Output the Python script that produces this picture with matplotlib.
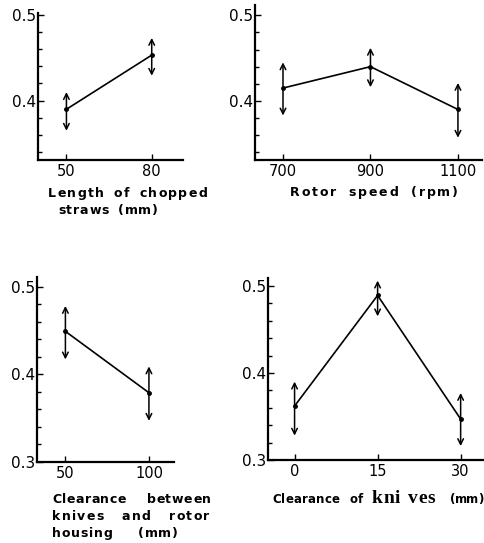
import matplotlib
matplotlib.use("Agg")
import matplotlib.pyplot as plt
from matplotlib.font_manager import FontProperties

W, H = 485, 543

# panel data: x levels, means, upper and lower arrow ends
straw_x = [50, 80]
straw_mean = [0.390, 0.453]
straw_hi = [0.410, 0.473]
straw_lo = [0.365, 0.429]

speed_x = [700, 900, 1100]
speed_mean = [0.415, 0.440, 0.390]
speed_hi = [0.445, 0.462, 0.421]
speed_lo = [0.383, 0.416, 0.357]

housing_x = [50, 100]
housing_mean = [0.449, 0.379]
housing_hi = [0.478, 0.409]
housing_lo = [0.417, 0.347]

knife_x = [0, 15, 30]
knife_mean = [0.362, 0.489, 0.347]
knife_hi = [0.390, 0.506, 0.377]
knife_lo = [0.328, 0.465, 0.316]

tick_font = ['DejaVu Sans']
lab_prop = FontProperties(family='DejaVu Sans', weight='bold', size=9)
small_prop = FontProperties(family='DejaVu Sans', weight='bold', size=8.5)
serif_prop = FontProperties(family=['Liberation Serif', 'DejaVu Serif'], weight='bold', size=14)


def px_axes(fig, left, top, right, bottom):
    # axes placed by pixel box of the reference picture
    return fig.add_axes([left / W, 1 - bottom / H, (right - left) / W, (bottom - top) / H])


def draw_panel(ax, xs, mean, hi, lo, xlim, ylim, xticks, xlabels, yticks, ylabels, yminor):
    ax.plot(xs, mean, color='black', lw=1.2, marker='o', ms=2.5)
    for x, m, h, l in zip(xs, mean, hi, lo):
        ax.annotate('', xy=(x, h), xytext=(x, l),
                    arrowprops=dict(arrowstyle='<->', color='black', lw=1.1,
                                    mutation_scale=10, shrinkA=0, shrinkB=0))
    ax.set_xlim(*xlim)
    ax.set_ylim(*ylim)
    for side in ['top', 'right']:
        ax.spines[side].set_visible(False)
    for side in ['left', 'bottom']:
        ax.spines[side].set_linewidth(1.6)
    ax.set_xticks(xticks)
    ax.set_xticklabels(xlabels, family=tick_font, fontsize=10.5)
    ax.set_yticks(yticks)
    ax.set_yticklabels(ylabels, family=tick_font, fontsize=11)
    ax.set_yticks(yminor, minor=True)
    ax.tick_params(axis='both', which='major', direction='in', length=4, width=1, pad=3)
    ax.tick_params(axis='y', which='minor', direction='in', length=3, width=1)
    ax.tick_params(axis='y', which='major', pad=1)


def spaced(fig, x0, x1, y, s, prop=lab_prop, track=1.5, min_gap=5):
    # letters get a tracking, word gaps take up the rest so the line
    # runs from pixel x0 to x1 with its baseline at y
    r = fig.canvas.get_renderer()

    def w(t):
        return r.get_text_width_height_descent(t, prop, ismath=False)[0]

    base = w('||')
    words = s.split(' ')
    letters = [[w('|' + c + '|') - base for c in word] for word in words]
    ink = sum(sum(a) for a in letters) - letters[-1][-1] + w(words[-1][-1])
    n_track = sum(len(a) - 1 for a in letters)
    n_gap = len(words) - 1
    if n_gap == 0:
        track = (x1 - x0 - ink) / max(n_track, 1)
        gap = 0
    else:
        gap = (x1 - x0 - ink - track * n_track) / n_gap
        if gap < min_gap:
            gap = min_gap
            track = (x1 - x0 - ink - gap * n_gap) / max(n_track, 1)
    x = x0
    for word, adv in zip(words, letters):
        for c, a in zip(word, adv):
            fig.text(x / W, 1 - y / H, c, ha='left', va='baseline', fontproperties=prop)
            x += a + track
        x += gap - track


fig = plt.figure(figsize=(W / 100, H / 100), dpi=100)

ax1 = px_axes(fig, 38, 13, 183, 160)
draw_panel(ax1, straw_x, straw_mean, straw_hi, straw_lo, (40, 91), (0.331, 0.502),
           [50, 80], ['50', '80'], [0.4, 0.5], ['0.4', '0.5'],
           [0.34, 0.36, 0.38, 0.42, 0.44, 0.46, 0.48])

ax2 = px_axes(fig, 255, 5, 482, 160)
draw_panel(ax2, speed_x, speed_mean, speed_hi, speed_lo, (636, 1155), (0.331, 0.512),
           [700, 900, 1100], ['700', '900', '1100'], [0.4, 0.5], ['0.4', '0.5'],
           [0.34, 0.36, 0.38, 0.42, 0.44, 0.46, 0.48])

ax3 = px_axes(fig, 37, 277, 174, 462)
draw_panel(ax3, housing_x, housing_mean, housing_hi, housing_lo, (33, 115), (0.3, 0.511),
           [50, 100], ['50', '100'], [0.3, 0.4, 0.5], ['0.3', '0.4', '0.5'],
           [0.32, 0.34, 0.36, 0.38, 0.42, 0.44, 0.46, 0.48])

ax4 = px_axes(fig, 268, 278, 485, 460)
draw_panel(ax4, knife_x, knife_mean, knife_hi, knife_lo, (-4.8, 34.4), (0.3, 0.509),
           [0, 15, 30], ['0', '15', '30'], [0.3, 0.4, 0.5], ['0.3', '0.4', '0.5'],
           [0.32, 0.34, 0.36, 0.38, 0.42, 0.44, 0.46, 0.48])

spaced(fig, 48, 207, 197, 'Length of chopped', track=1.3)
spaced(fig, 58, 158, 214, 'straws (mm)', track=0.8)
spaced(fig, 290, 458, 196, 'Rotor speed (rpm)', track=1.8)

spaced(fig, 52, 211, 503, 'Clearance between', track=0.6, min_gap=14)
spaced(fig, 52, 209, 520, 'knives and rotor', track=1.3)
spaced(fig, 52, 178, 537, 'housing (mm)', track=0.8, min_gap=14)

spaced(fig, 272, 363, 503, 'Clearance of', prop=small_prop, track=0.2)
spaced(fig, 372, 435, 503, 'kni ves', prop=serif_prop, track=0.5)
spaced(fig, 450, 483, 503, '(mm)', prop=small_prop)

fig.savefig('out.png', dpi=100)
